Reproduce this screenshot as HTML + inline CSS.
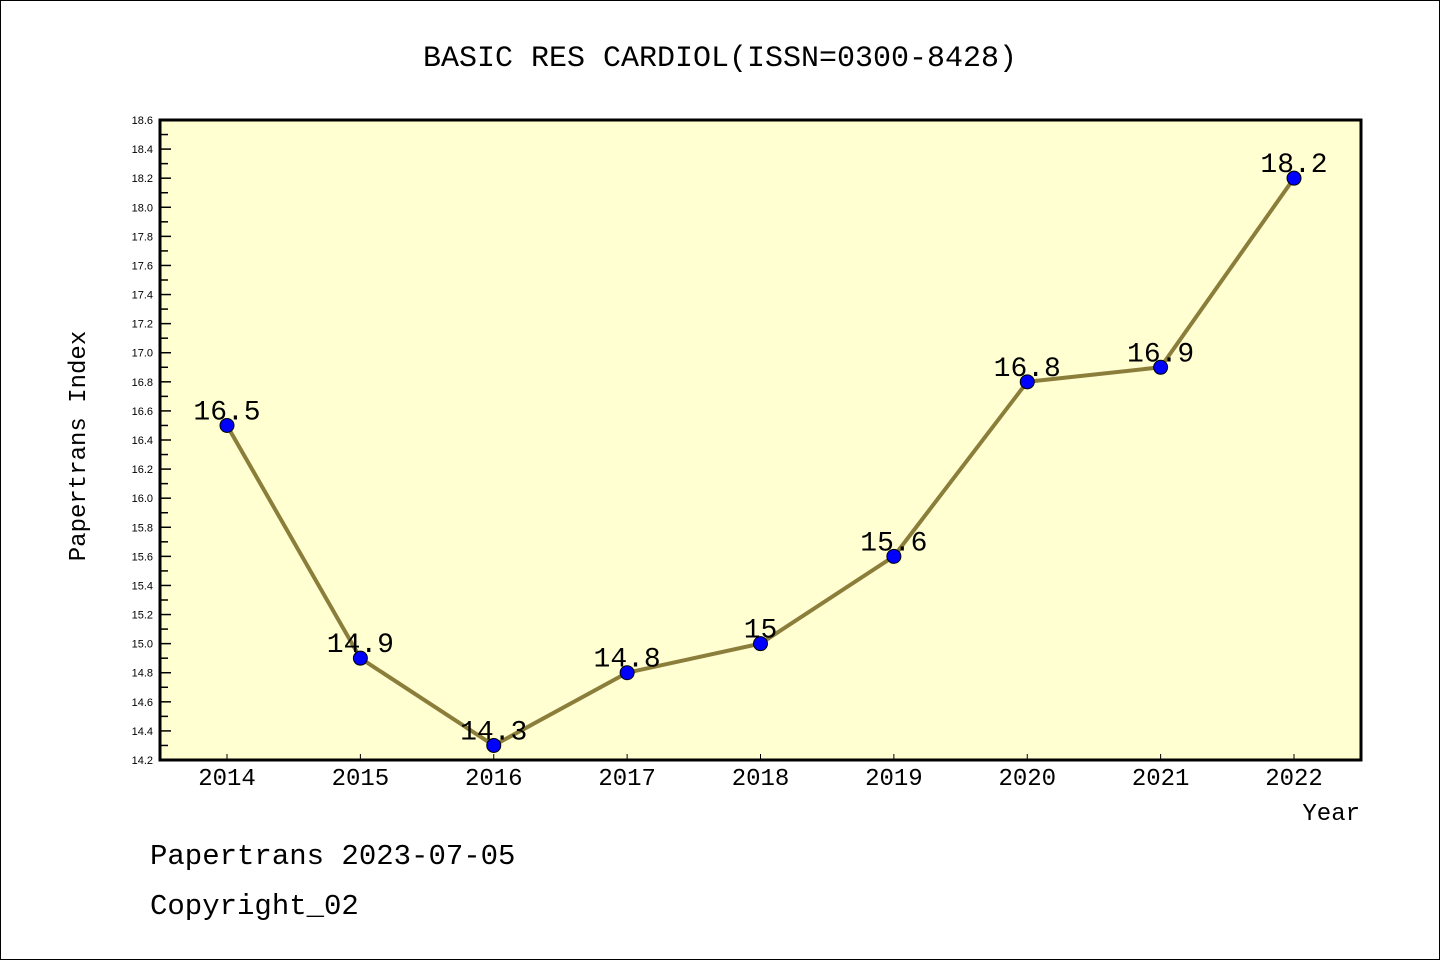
<!DOCTYPE html>
<html><head><meta charset="utf-8"><style>
body{margin:0;background:#fff}
svg{display:block;font-family:"Liberation Mono","DejaVu Sans Mono",monospace}
</style></head><body>
<svg width="1440" height="960" viewBox="0 0 1440 960">
<rect x="0.5" y="0.5" width="1439" height="959" fill="#fff" stroke="#000"/>
<text x="720" y="66" font-size="30" text-anchor="middle">BASIC RES CARDIOL(ISSN=0300-8428)</text>
<rect x="160" y="120" width="1201" height="640" fill="#ffffd2"/>
<g id="yaxis"></g>
<g id="xaxis"></g>
<g id="series"></g>
<rect x="160" y="120" width="1201" height="640" fill="none" stroke="#000" stroke-width="3"/>
<text transform="translate(85,446) rotate(-90)" font-size="24" text-anchor="middle">Papertrans Index</text>
<text x="1360" y="820" font-size="24" text-anchor="end">Year</text>
<text x="150" y="864" font-size="29">Papertrans 2023-07-05</text>
<text x="150" y="914" font-size="29">Copyright_02</text>
</svg>
<script>
const years=[2014,2015,2016,2017,2018,2019,2020,2021,2022];
const values=[16.5,14.9,14.3,14.8,15,15.6,16.8,16.9,18.2];
const labels=["16.5","14.9","14.3","14.8","15","15.6","16.8","16.9","18.2"];
const yTicks=[14.2,14.4,14.6,14.8,15.0,15.2,15.4,15.6,15.8,16.0,16.2,16.4,16.6,16.8,17.0,17.2,17.4,17.6,17.8,18.0,18.2,18.4,18.6];
const NS="http://www.w3.org/2000/svg";
const yMin=14.2,yMax=18.6,plotTop=120,plotBot=760;
const ys=v=>plotBot-(v-yMin)/(yMax-yMin)*(plotBot-plotTop);
const xs=i=>227+i*(1294-227)/(years.length-1);
function mk(t,a,p){const e=document.createElementNS(NS,t);for(const k in a)e.setAttribute(k,a[k]);p.appendChild(e);return e;}
const ya=document.getElementById('yaxis'),xa=document.getElementById('xaxis'),sg=document.getElementById('series');
yTicks.forEach((v,i)=>{
  const y=ys(v);
  const t=mk('line',{x1:160,x2:171,y1:y,y2:y,stroke:'#000','stroke-width':1.5},ya);
  
  
  const lb=mk('text',{x:153,y:y+4,'font-size':11,'text-anchor':'end','font-family':'Liberation Sans, sans-serif'},ya);
  lb.textContent=v.toFixed(1);
  
  
  if(i<yTicks.length-1){const ym=ys(v+0.1);
    const m=mk('line',{x1:160,x2:168,y1:ym,y2:ym,stroke:'#000','stroke-width':1.5},ya);
    
    }
});
years.forEach((yr,i)=>{
  const x=xs(i);
  const t=mk('line',{x1:x,x2:x,y1:760,y2:754,stroke:'#000','stroke-width':1},xa);
  
  
  const lb=mk('text',{x:x,y:785,'font-size':24,'text-anchor':'middle'},xa);
  lb.textContent=yr;
  
  
});
const pl=mk('polyline',{points:values.map((v,i)=>xs(i)+','+ys(v)).join(' '),fill:'none',stroke:'#8b7d3a','stroke-width':4},sg);


values.forEach((v,i)=>{
  const c=mk('circle',{cx:xs(i),cy:ys(v),r:7,fill:'#0000ff',stroke:'#000','stroke-width':1},sg);
  
  
  const lb=mk('text',{x:xs(i),y:ys(v)-6,'font-size':28,'text-anchor':'middle'},sg);
  lb.textContent=labels[i];
  
  
});
</script>
</body></html>
